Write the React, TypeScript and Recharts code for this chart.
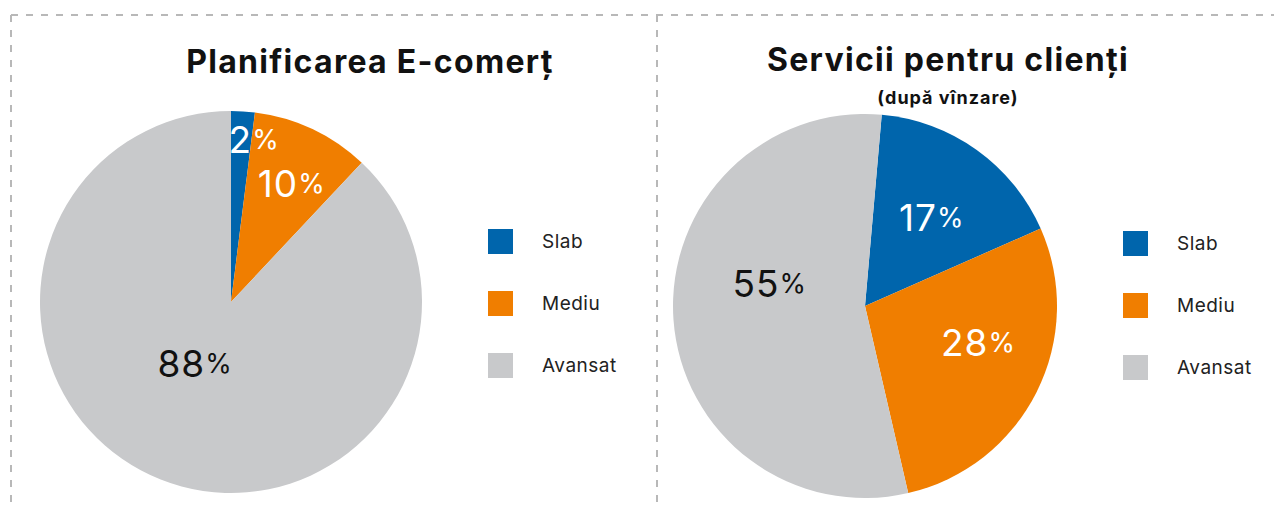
import { PieChart, Pie, Cell } from "recharts";

const categories = ["Slab", "Mediu", "Avansat"];
const ecommerceValues = [2, 10, 88];
const serviceValues = [17, 28, 55];
const ecommerceTitle = "Planificarea E-comerț";
const serviceTitle = "Servicii pentru clienți";
const serviceSubtitle = "(după vînzare)";

const COLORS = ["#0065AC", "#F07E00", "#C8C9CB"];
const LABEL_FILL = ["#ffffff", "#ffffff", "#111111"];
const FONT = "Inter, 'Open Sans', sans-serif";
const NO_MARGIN = { top: 0, right: 0, bottom: 0, left: 0 };

const ecommerceData = categories.map((name, i) => ({ name, value: ecommerceValues[i] }));
const serviceData = categories.map((name, i) => ({ name, value: serviceValues[i] }));

// per-slice label tweaks: radius ratio and clockwise angle shift (deg)
const leftLabelTweak = [
  { r: 0.86, da: 4.5 },
  { r: 0.7, da: 1.8 },
  { r: 0.37, da: 9 },
];
const rightLabelTweak = [
  { r: 0.58, da: 1.2 },
  { r: 0.62, da: -9 },
  { r: 0.51, da: 17.7 },
];

const RAD = Math.PI / 180;

const makeLabel = (tweak: { r: number; da: number }[]) => (props: any) => {
  const { cx, cy, midAngle, outerRadius, index, value } = props;
  const t = tweak[index];
  const a = (midAngle - t.da) * RAD;
  const x = cx + outerRadius * t.r * Math.cos(a);
  const y = cy - outerRadius * t.r * Math.sin(a);
  return (
    <text
      x={x}
      y={y}
      textAnchor="middle"
      dominantBaseline="central"
      fill={LABEL_FILL[index]}
      fontFamily={FONT}
      fontWeight={400}
      letterSpacing={1}
    >
      <tspan fontSize={37}>{value}</tspan>
      <tspan fontSize={27}>%</tspan>
    </text>
  );
};

const LegendBox = ({ left, top }: { left: number; top: number }) => (
  <div style={{ position: "absolute", left, top, fontFamily: FONT }}>
    {categories.map((name, i) => (
      <div key={name} style={{ display: "flex", alignItems: "center", height: 25, marginBottom: 37 }}>
        <span style={{ width: 25, height: 25, background: COLORS[i], display: "inline-block" }} />
        <span style={{ marginLeft: 29, fontSize: 19, color: "#222", letterSpacing: 0.5 }}>{name}</span>
      </div>
    ))}
  </div>
);

const titleStyle: any = {
  position: "absolute",
  fontFamily: FONT,
  fontWeight: 700,
  fontSize: 32,
  letterSpacing: 1.3,
  color: "#111",
  textAlign: "center",
  whiteSpace: "nowrap",
};

export default function App() {
  return (
    <div style={{ position: "absolute", left: 0, top: 0, width: 1274, height: 510, background: "#fff", overflow: "hidden" }}>
      <svg width={1274} height={510} style={{ position: "absolute", left: 0, top: 0 }}>
        <g stroke="#b8b8b8" strokeWidth={2} strokeDasharray="7 8" fill="none">
          <line x1={11} y1={15} x2={1274} y2={15} />
          <line x1={11} y1={15} x2={11} y2={510} />
          <line x1={657} y1={15} x2={657} y2={510} />
        </g>
      </svg>

      <div style={{ ...titleStyle, left: 170, width: 400, top: 42, lineHeight: "40px" }}>{ecommerceTitle}</div>
      <div style={{ ...titleStyle, left: 748, width: 400, top: 40, lineHeight: "40px" }}>{serviceTitle}</div>
      <div style={{ ...titleStyle, left: 748, width: 400, top: 86, fontSize: 18, letterSpacing: 1, lineHeight: "24px" }}>
        {serviceSubtitle}
      </div>

      <div style={{ position: "absolute", left: 0, top: 0 }}>
        <PieChart width={657} height={510} margin={NO_MARGIN}>
          <Pie
            data={ecommerceData}
            dataKey="value"
            nameKey="name"
            cx={231}
            cy={302}
            outerRadius={191}
            startAngle={90}
            endAngle={-270}
            stroke="none"
            labelLine={false}
            label={makeLabel(leftLabelTweak)}
            isAnimationActive={false}
          >
            {ecommerceData.map((d, i) => (
              <Cell key={d.name} fill={COLORS[i]} />
            ))}
          </Pie>
        </PieChart>
      </div>
      <LegendBox left={488} top={229} />

      <div style={{ position: "absolute", left: 657, top: 0 }}>
        <PieChart width={617} height={510} margin={NO_MARGIN}>
          <Pie
            data={serviceData}
            dataKey="value"
            nameKey="name"
            cx={208}
            cy={306}
            outerRadius={192}
            startAngle={85}
            endAngle={-275}
            stroke="none"
            labelLine={false}
            label={makeLabel(rightLabelTweak)}
            isAnimationActive={false}
          >
            {serviceData.map((d, i) => (
              <Cell key={d.name} fill={COLORS[i]} />
            ))}
          </Pie>
        </PieChart>
      </div>
      <LegendBox left={1123} top={231} />
    </div>
  );
}
